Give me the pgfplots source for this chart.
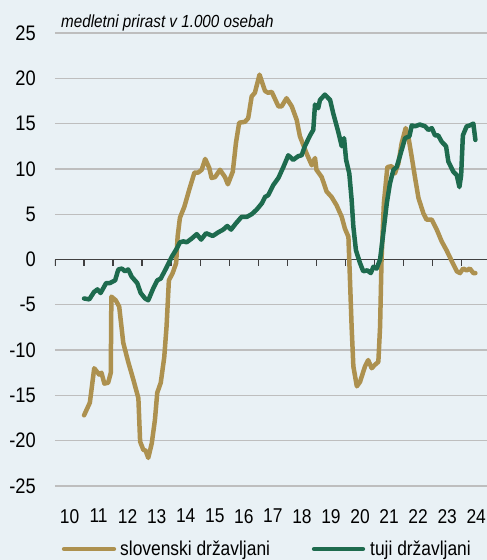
\documentclass[border=0pt]{standalone}
\usepackage{pgfplots}
\pgfplotsset{compat=1.18}
\usepackage{fontspec}
\setmainfont{Liberation Sans}[FakeStretch=0.87]
\definecolor{bgc}{HTML}{E9F1F5}
\definecolor{gold}{HTML}{AD914F}
\definecolor{dgreen}{HTML}{1E6B4E}
\definecolor{gridc}{HTML}{BEBEBE}
\definecolor{axc}{HTML}{404040}
\begin{document}
\begin{tikzpicture}[x=1pt,y=1pt]
\fill[bgc] (0,0) rectangle (487,560);
\begin{axis}[
  at={(55pt,74pt)}, anchor=south west,
  scale only axis, width=432pt, height=453pt,
  xmin=2010, xmax=2024.87, ymin=-25, ymax=25,
  axis line style={draw=none},
  major tick length=0pt,
  ytick={-25,-20,-15,-10,-5,0,5,10,15,20,25},
  yticklabels={-25,-20,-15,-10,-5,0,5,10,15,20,25},
  xtick={2010.5,2011.5,2012.5,2013.5,2014.5,2015.5,2016.5,2017.5,2018.5,2019.5,2020.5,2021.5,2022.5,2023.5,2024.5},
  xticklabels={10,11,12,13,14,15,16,17,18,19,20,21,22,23,24},
  ymajorgrids, grid style={gridc, line width=1.3pt},
  yticklabel style={anchor=east, inner sep=0pt, xshift=-19pt, font=\fontsize{21}{24}\selectfont},
  xticklabel style={anchor=north, inner sep=0pt, yshift=-23pt, font=\fontsize{20}{24}\selectfont},
  /pgf/number format/assume math mode=true,
  every axis plot/.append style={line width=4.5pt, line join=round, line cap=round},
]
\draw[axc, line width=1.5pt] (axis cs:2010,0) -- (axis cs:2024.87,0);
\pgfplotsinvokeforeach{2010,2011,2012,2013,2014,2015,2016,2017,2018,2019,2020,2021,2022,2023,2024}{
  \draw[axc, line width=1.5pt] (axis cs:#1,0) -- ++(0pt,-6pt);
}
\addplot[gold, no markers] coordinates {
(2011.0,-17.2) (2011.2,-15.8) (2011.35,-12.0) (2011.52,-12.7) (2011.6,-12.5) (2011.7,-13.7) (2011.83,-13.6) (2011.92,-12.5) (2011.94,-4.1) (2012.09,-4.5) (2012.21,-5.2) (2012.35,-9.2) (2012.52,-11.3) (2012.7,-13.3) (2012.87,-15.3) (2012.93,-20.1) (2013.04,-21.0) (2013.12,-21.1) (2013.21,-21.9) (2013.33,-20.3) (2013.44,-17.7) (2013.52,-14.7) (2013.64,-13.6) (2013.76,-10.8) (2013.84,-7.4) (2013.92,-2.3) (2014.05,-1.5) (2014.17,-0.4) (2014.22,2.5) (2014.3,4.6) (2014.45,5.8) (2014.62,7.7) (2014.8,9.6) (2014.93,9.6) (2015.05,9.9) (2015.17,11.1) (2015.31,10.1) (2015.39,9.0) (2015.51,9.1) (2015.68,9.9) (2015.85,9.1) (2015.95,8.3) (2016.12,9.7) (2016.23,12.9) (2016.34,15.1) (2016.54,15.2) (2016.65,15.6) (2016.77,18.0) (2016.88,18.4) (2017.04,20.4) (2017.23,18.6) (2017.34,18.4) (2017.46,18.5) (2017.69,16.9) (2017.8,16.9) (2017.97,17.8) (2018.15,16.9) (2018.32,15.4) (2018.43,13.6) (2018.66,11.7) (2018.84,10.4) (2018.95,11.2) (2019.0,9.9) (2019.18,9.1) (2019.35,7.5) (2019.52,6.9) (2019.69,6.0) (2019.87,4.7) (2019.98,3.4) (2020.1,2.5) (2020.15,-1.9) (2020.21,-7.4) (2020.27,-11.8) (2020.39,-14.0) (2020.5,-13.5) (2020.67,-11.8) (2020.78,-11.1) (2020.9,-12.0) (2021.02,-11.6) (2021.13,-11.3) (2021.19,-7.4) (2021.24,0.0) (2021.32,6.2) (2021.44,10.2) (2021.59,10.3) (2021.7,9.5) (2021.82,10.6) (2021.93,12.8) (2022.07,14.5) (2022.16,13.6) (2022.28,11.3) (2022.39,9.1) (2022.51,6.8) (2022.68,5.1) (2022.79,4.4) (2022.97,4.4) (2023.14,3.3) (2023.31,2.0) (2023.48,1.0) (2023.66,-0.2) (2023.83,-1.3) (2023.94,-1.5) (2024.05,-1.0) (2024.17,-1.2) (2024.28,-1.0) (2024.4,-1.5) (2024.47,-1.5)
};
\addplot[dgreen, no markers] coordinates {
(2011.0,-4.3) (2011.18,-4.4) (2011.34,-3.6) (2011.46,-3.3) (2011.57,-3.7) (2011.76,-2.6) (2011.89,-2.6) (2012.07,-2.3) (2012.18,-1.1) (2012.3,-1.0) (2012.41,-1.3) (2012.52,-1.1) (2012.64,-1.9) (2012.83,-2.6) (2012.95,-3.7) (2013.1,-4.3) (2013.21,-4.5) (2013.38,-3.2) (2013.52,-2.3) (2013.64,-2.1) (2013.82,-1.0) (2014.02,0.3) (2014.19,1.2) (2014.3,1.9) (2014.42,2.0) (2014.53,1.9) (2014.7,2.3) (2014.88,2.8) (2015.03,2.2) (2015.2,2.9) (2015.43,2.6) (2015.62,3.0) (2015.79,3.3) (2015.93,3.7) (2016.06,3.3) (2016.23,4.0) (2016.42,4.7) (2016.6,4.7) (2016.77,5.0) (2016.94,5.5) (2017.12,6.2) (2017.23,6.9) (2017.34,7.1) (2017.51,8.2) (2017.69,9.0) (2017.86,10.2) (2018.03,11.5) (2018.2,11.0) (2018.37,11.4) (2018.49,11.5) (2018.6,12.5) (2018.78,13.7) (2018.89,14.3) (2018.95,17.1) (2019.06,16.7) (2019.12,17.6) (2019.29,18.2) (2019.47,17.6) (2019.58,16.1) (2019.75,14.1) (2019.87,12.5) (2019.95,13.4) (2020.02,11.0) (2020.13,9.5) (2020.21,6.6) (2020.27,3.6) (2020.36,1.0) (2020.5,-0.4) (2020.61,-1.3) (2020.75,-1.2) (2020.87,-1.5) (2020.96,-0.8) (2021.07,-1.0) (2021.19,0.0) (2021.3,2.9) (2021.42,6.2) (2021.53,8.4) (2021.65,9.9) (2021.76,10.2) (2021.88,11.5) (2022.05,13.4) (2022.2,13.6) (2022.28,14.8) (2022.39,14.7) (2022.56,14.9) (2022.74,14.7) (2022.85,14.3) (2022.97,14.5) (2023.08,13.7) (2023.19,13.7) (2023.31,13.0) (2023.46,12.5) (2023.54,10.8) (2023.71,9.7) (2023.83,9.3) (2023.92,8.0) (2023.98,9.3) (2024.04,13.7) (2024.17,14.7) (2024.28,14.8) (2024.4,15.0) (2024.47,13.2)
};
\end{axis}
\node[anchor=base west, inner sep=0pt, font=\fontsize{17.5}{20}\selectfont\itshape] at (61,532.5) {medletni prirast v 1.000 osebah};
\draw[gold, line width=4.3pt, line cap=round] (64,11) -- (114,11);
\node[anchor=base west, inner sep=0pt, font=\fontsize{20}{24}\selectfont] at (120,5) {slovenski državljani};
\draw[dgreen, line width=4.3pt, line cap=round] (314,11) -- (363,11);
\node[anchor=base west, inner sep=0pt, font=\fontsize{20}{24}\selectfont] at (370,5) {tuji državljani};
\pgfresetboundingbox
\useasboundingbox (0,0) rectangle (487,560);
\end{tikzpicture}
\end{document}
